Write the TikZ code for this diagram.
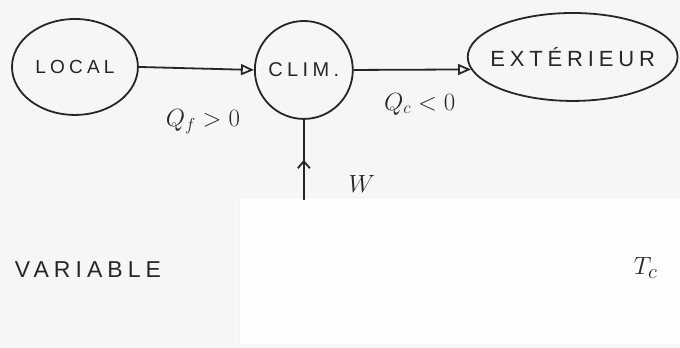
\documentclass[tikz,border=0pt]{standalone}
\usepackage{fontspec}
\setmainfont{Liberation Sans}
\newfontfamily\hand[LetterSpace=22]{Liberation Sans}
\usetikzlibrary{arrows.meta,decorations.markings,shapes.geometric}
\definecolor{ink}{HTML}{262626}
\definecolor{paper}{HTML}{F5F6F6}
\definecolor{sheet}{HTML}{FDFDFD}
\tikzset{
  pen/.style={draw=ink, line width=1.8pt},
  blob/.style={pen, ellipse, inner sep=0pt},
  flow/.style={pen, -{Triangle[open, length=13pt, width=11pt]}},
  word/.style={text=ink, font=\hand},
  qty/.style={text=ink, font=\fontsize{25}{30}\selectfont},
}
\begin{document}
\begin{tikzpicture}[x=1pt,y=-1pt]
  % paper and the lighter sheet lying on it
  \fill[paper] (0,0) rectangle (680,348);
  \fill[sheet] (240,198) rectangle (680,344);
  \draw[black!5, line width=0.8pt] (240,344) -- (240,198) -- (680,198);

  % the three systems
  \node[blob, minimum width=126pt, minimum height=96pt] (local) at (75,67) {};
  \node[word, font=\hand\fontsize{19}{21}\selectfont] at (local) {LOCAL};
  \node[blob, minimum width=98pt, minimum height=98pt] (clim) at (304,70) {};
  \node[word, font=\hand\fontsize{20}{22}\selectfont] at (clim) {CLIM.};
  \node[blob, minimum width=210pt, minimum height=88pt] (ext) at (573,57) {};
  \node[word, font=\hand\fontsize{22}{24}\selectfont] at (ext) {EXTÉRIEUR};

  % heat flows
  \draw[flow] (local.east) -- (clim.west);
  \draw[flow] (clim.east) -- (ext.187);
  \node[qty] (qf) at (203,122) {$Q_f > 0$};
  \node[qty] (qc) at (420,104) {$Q_c < 0$};

  % work input from below
  \coordinate (wsrc) at (304,200);
  \draw[pen, decoration={markings, mark=at position 0.5 with {\arrow{Straight Barb[length=7pt, width=12pt]}}}, postaction={decorate}] (wsrc) -- (clim.south);
  \node[qty] (w) at (362,184) {$W$};

  % bottom line
  \node[word, font=\hand\fontsize{23}{26}\selectfont] (var) at (88,270) {VARIABLE};
  \node[qty, font=\fontsize{30}{34}\selectfont] (tc) at (646,268) {$T_c$};
\end{tikzpicture}
\end{document}
